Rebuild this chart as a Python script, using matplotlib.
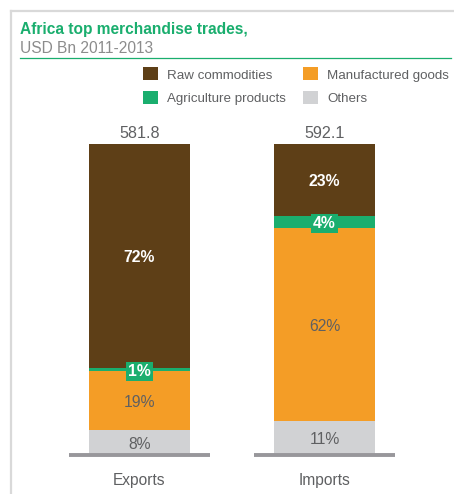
import matplotlib
matplotlib.use("Agg")
import matplotlib.pyplot as plt
from matplotlib.lines import Line2D
import numpy as np

plt.rcParams['font.family'] = ['Liberation Sans', 'DejaVu Sans']

categories = ["Exports", "Imports"]
totals = ["581.8", "592.1"]
others = [8, 11]
manufactured = [19, 62]
agriculture = [1, 4]
raw = [72, 23]

colors = {
    "Raw commodities": "#5e3f17",
    "Manufactured goods": "#f49d26",
    "Agriculture products": "#1aae6e",
    "Others": "#d1d2d4",
}
GREEN = "#1aae6e"
GRAY_TXT = "#5f6062"

W, H = 454, 494
fig = plt.figure(figsize=(W / 100, H / 100), dpi=100)

def fx(px):
    return px / W

def fy(py):
    return 1 - py / H

# frame
fig.add_artist(Line2D([fx(11), fx(11)], [fy(11), fy(494)], color="#d9d9d9", lw=1.6))
fig.add_artist(Line2D([fx(11), fx(454)], [fy(11), fy(11)], color="#d9d9d9", lw=1.6))

# title
fig.text(fx(20), fy(34), "Africa top merchandise trades,", color=GREEN, fontsize=11.2,
         fontweight="bold", va="baseline", ha="left")
fig.text(fx(20), fy(53), "USD Bn 2011-2013", color="#8c8c8c", fontsize=11.2,
         va="baseline", ha="left")
fig.add_artist(Line2D([fx(20), fx(451)], [fy(58), fy(58)], color=GREEN, lw=0.9))

# axes
ax = fig.add_axes([fx(47), fy(455), fx(417) - fx(47), (455 - 144) / H])
ax.set_xlim(-0.5, 1.5)
ax.set_ylim(0, 100)
ax.axis("off")

x = np.arange(len(categories))
bw = 101 / 185
segs = [("Others", others), ("Manufactured goods", manufactured),
        ("Agriculture products", agriculture), ("Raw commodities", raw)]
bottom = np.zeros(len(categories))
containers = {}
FS = 11.3
for name, vals in segs:
    vals = np.array(vals, dtype=float)
    c = ax.bar(x, vals, bw, bottom=bottom, color=colors[name], label=name, zorder=2)
    containers[name] = c
    for i, v in enumerate(vals):
        yc = bottom[i] + v / 2
        kw = dict(xytext=(0, -2), textcoords="offset pixels", ha="center", va="center",
                  fontsize=FS, zorder=4)
        if name == "Raw commodities":
            ax.annotate(f"{int(v)}%", (x[i], yc), color="white", fontweight="bold", **kw)
        elif name == "Agriculture products":
            ax.annotate(f"{int(v)}%", (x[i], yc), color="white", fontweight="bold",
                        bbox=dict(boxstyle="square,pad=0.14", fc=GREEN, ec="none"), **kw)
        else:
            ax.annotate(f"{int(v)}%", (x[i], yc), color=GRAY_TXT, **kw)
    bottom += vals

# baselines
half = 141 / 185 / 2
for i in x:
    ax.plot([i - half, i + half], [0, 0], color="#98979b", lw=2.8, solid_capstyle="butt",
            zorder=3, clip_on=False)

# totals and categories
for i in x:
    ax.annotate(totals[i], (i, bottom[i]), xytext=(0, 6), textcoords="offset pixels",
                ha="center", va="baseline", color=GRAY_TXT, fontsize=11.6, annotation_clip=False)
    ax.annotate(categories[i], (i, 0), xytext=(0, -25), textcoords="offset pixels",
                ha="center", va="center", color=GRAY_TXT, fontsize=11.2, annotation_clip=False)

handles = [containers["Raw commodities"], containers["Agriculture products"],
           containers["Manufactured goods"], containers["Others"]]
labels = ["Raw commodities", "Agriculture products", "Manufactured goods", "Others"]
leg = fig.legend(handles, labels, ncol=2, loc="upper left",
                 bbox_to_anchor=(fx(143), fy(67.5)), frameon=False, fontsize=9.6,
                 handlelength=1.12, handleheight=1.12, handletextpad=0.65,
                 columnspacing=1.35, labelspacing=0.72, borderpad=0, borderaxespad=0)
for t in leg.get_texts():
    t.set_color(GRAY_TXT)

fig.savefig("out.png", dpi=100)
